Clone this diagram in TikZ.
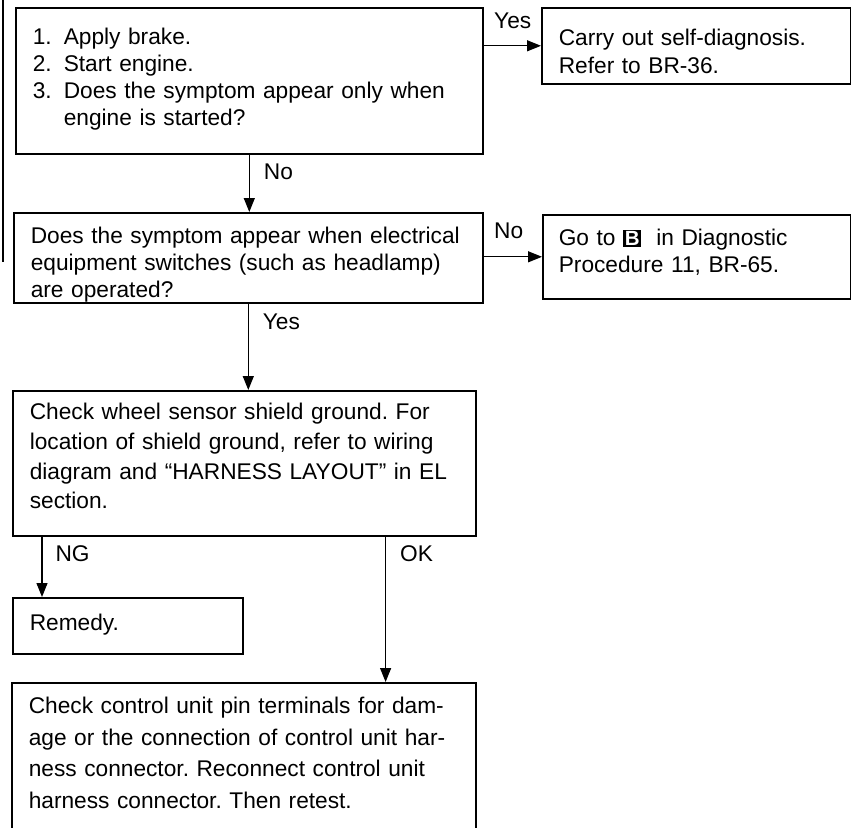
\documentclass[tikz,border=0pt]{standalone}
\usepackage{fontspec}
\setmainfont{Liberation Sans}
\usetikzlibrary{arrows.meta}
\frenchspacing

% black key letter as used in the manual text
\newcommand{\keyletter}[1]{\raisebox{0.5pt}{\setlength{\fboxsep}{1.6pt}\colorbox{black}{\textcolor{white}{\fontsize{20.5pt}{20.5pt}\selectfont\bfseries #1}}}}
\newcommand{\itm}[1]{\makebox[31pt][l]{#1}}

\begin{document}
\begin{tikzpicture}[x=1pt,y=-1pt,
  font=\fontsize{22.7pt}{27pt}\selectfont,
  box/.style={draw,line width=1.6pt,anchor=north west,align=left,inner ysep=0pt,inner xsep=17pt},
  arr/.style={-{Triangle[length=14pt,width=11pt]},line width=1.2pt},
  lbl/.style={anchor=base west,inner sep=0pt}]
  \useasboundingbox (0,0) rectangle (851,827);
  \clip (0,0) rectangle (851,827);

  \node (Q1) at (15,7) [box,text width=433pt,text height=37pt,text depth=109pt]
    {\itm{1.}Apply brake.\\ \itm{2.}Start engine.\\
     \itm{3.}Does the symptom appear only when\\ \hspace*{31pt}engine is started?};
  \node (SD) at (541,7) [box,text width=275pt,text height=38pt,text depth=38pt,
    font=\fontsize{22.7pt}{28pt}\selectfont]
    {Carry out self-diagnosis.\\ Refer to BR-36.};
  \node (Q2) at (13,212) [box,text width=435pt,text height=31pt,text depth=59pt]
    {Does the symptom appear when electrical\\ equipment switches (such as headlamp)\\ are operated?};
  \node (DP) at (542,214) [box,inner xsep=16pt,text width=276pt,text height=31pt,text depth=53pt]
    {Go to \keyletter{B}\ \ in Diagnostic\\ Procedure 11, BR-65.};
  \node (SG) at (12,390) [box,text width=429pt,text height=29pt,text depth=116pt,
    font=\fontsize{22.7pt}{29.7pt}\selectfont]
    {Check wheel sensor shield ground. For\\ location of shield ground, refer to wiring\\
     diagram and “HARNESS LAYOUT” in EL\\ section.};
  \node (RM) at (12,597) [box,text width=196pt,text height=33pt,text depth=23pt]
    {Remedy.};
  \node (CU) at (11,682) [box,text width=430pt,text height=31pt,text depth=137pt,
    font=\fontsize{22.7pt}{31.5pt}\selectfont]
    {Check control unit pin terminals for dam-\\ age or the connection of control unit har-\\
     ness connector. Reconnect control unit\\ harness connector. Then retest.};

  % page rule on the left
  \draw[line width=1.2pt] (3,0) -- (3,262);

  \draw[arr] (Q1.east |- SD.west) -- node[lbl,pos=0,xshift=10pt,yshift=17pt] {Yes} (SD.west);
  \draw[arr] (Q1.south) -- node[lbl,pos=0,xshift=14pt,yshift=-25pt] {No} (Q1.south |- Q2.north);
  \draw[arr] (Q2.east |- DP.west) -- node[lbl,pos=0,xshift=10pt,yshift=18pt] {No} (DP.west);
  \draw[arr] (Q2.south) -- node[lbl,pos=0,xshift=14pt,yshift=-26pt] {Yes} (Q2.south |- SG.north);
  \draw[arr] ([xshift=30pt]SG.south west) --
    node[lbl,pos=0,xshift=13pt,yshift=-25pt] {NG} ([xshift=30pt]SG.south west |- RM.north);
  \draw[arr] ([xshift=-91pt]SG.south east) --
    node[lbl,pos=0,xshift=14pt,yshift=-25pt] {OK} ([xshift=-91pt]SG.south east |- CU.north);
\end{tikzpicture}
\end{document}
